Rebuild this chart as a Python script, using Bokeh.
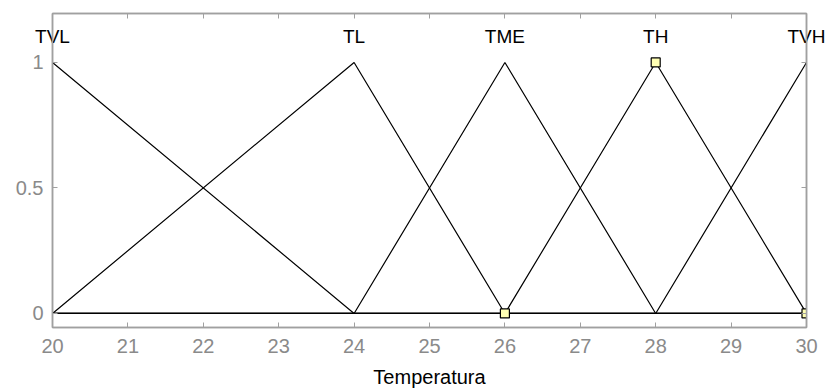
from bokeh.plotting import figure
from bokeh.models import (LinearAxis, FixedTicker, Range1d,
                          CustomJSTickFormatter)
from bokeh.embed import file_html
from bokeh.resources import INLINE

# Membership functions of the "Temperatura" input, as polyline vertices over [20, 30]
tvl_x = [20, 24, 30]
tvl_y = [1, 0, 0]
tl_x = [20, 24, 26, 30]
tl_y = [0, 1, 0, 0]
tme_x = [20, 24, 26, 28, 30]
tme_y = [0, 0, 1, 0, 0]
th_x = [20, 26, 28, 30]
th_y = [0, 0, 1, 0]
tvh_x = [20, 28, 30]
tvh_y = [0, 0, 1]

mf_names = ["TVL", "TL", "TME", "TH", "TVH"]
mf_peaks = [20, 24, 26, 28, 30]

# Parameters of the selected function (TH)
sel_x = [26, 28, 30]
sel_y = [0, 1, 0]

x_ticks = [20, 21, 22, 23, 24, 25, 26, 27, 28, 29, 30]
y_ticks = [0, 0.5, 1]

FONT = "Liberation Sans"
GRAY = "#8a8a8a"
FRAME = "#a0a0a0"

p = figure(width=830, height=390, output_backend="svg", toolbar_location=None,
           x_range=Range1d(20, 30), y_range=Range1d(-0.056, 1.195),
           min_border_left=52, min_border_right=24, min_border_top=13,
           min_border_bottom=63, x_axis_location=None, y_axis_location=None)
p.grid.visible = False
p.outline_line_color = FRAME
p.outline_line_width = 1.5
p.background_fill_color = "white"
p.border_fill_color = "white"


def make_axis(ticks, show_labels, label=None):
    ax = LinearAxis(ticker=FixedTicker(ticks=ticks))
    ax.axis_line_color = FRAME
    ax.axis_line_width = 1.5
    ax.major_tick_line_color = FRAME
    ax.major_tick_in = 5
    ax.major_tick_out = 0
    ax.minor_tick_line_color = None
    ax.major_label_text_font = FONT
    ax.major_label_text_color = GRAY
    ax.major_label_text_font_size = "20px"
    if not show_labels:
        # tick marks only on the opposite side of the box
        ax.formatter = CustomJSTickFormatter(code="return ''")
        ax.major_label_standoff = 0
    if label:
        ax.axis_label = label
        ax.axis_label_text_font = FONT
        ax.axis_label_text_font_size = "20px"
        ax.axis_label_text_font_style = "normal"
        ax.axis_label_text_color = "black"
        ax.axis_label_standoff = 10
    return ax


bottom = make_axis(x_ticks, True, "Temperatura")
bottom.major_label_standoff = 11
left = make_axis(y_ticks, True)
left.major_label_standoff = 9
right = make_axis(y_ticks, False)

# Top side: tick marks, and the function names hung just inside the box above each peak
top = make_axis(x_ticks, False)
top.major_label_overrides = {t: (mf_names[mf_peaks.index(t)] if t in mf_peaks else "")
                             for t in x_ticks}
top.formatter = CustomJSTickFormatter(code="return ''")
top.major_label_text_color = "black"
top.major_label_text_font_size = "19px"
top.major_label_text_baseline = "middle"
top.major_label_standoff = -33

p.add_layout(bottom, "below")
p.add_layout(top, "above")
p.add_layout(left, "left")
p.add_layout(right, "right")

for xs, ys in [(tvl_x, tvl_y), (tl_x, tl_y), (tme_x, tme_y), (th_x, th_y), (tvh_x, tvh_y)]:
    p.line(xs, ys, line_color="black", line_width=1.2)

p.scatter(sel_x, sel_y, marker="square", size=9, fill_color="#ffffb4",
          line_color="black", line_width=1.2)

open("out.html", "w").write(file_html(p, INLINE))
